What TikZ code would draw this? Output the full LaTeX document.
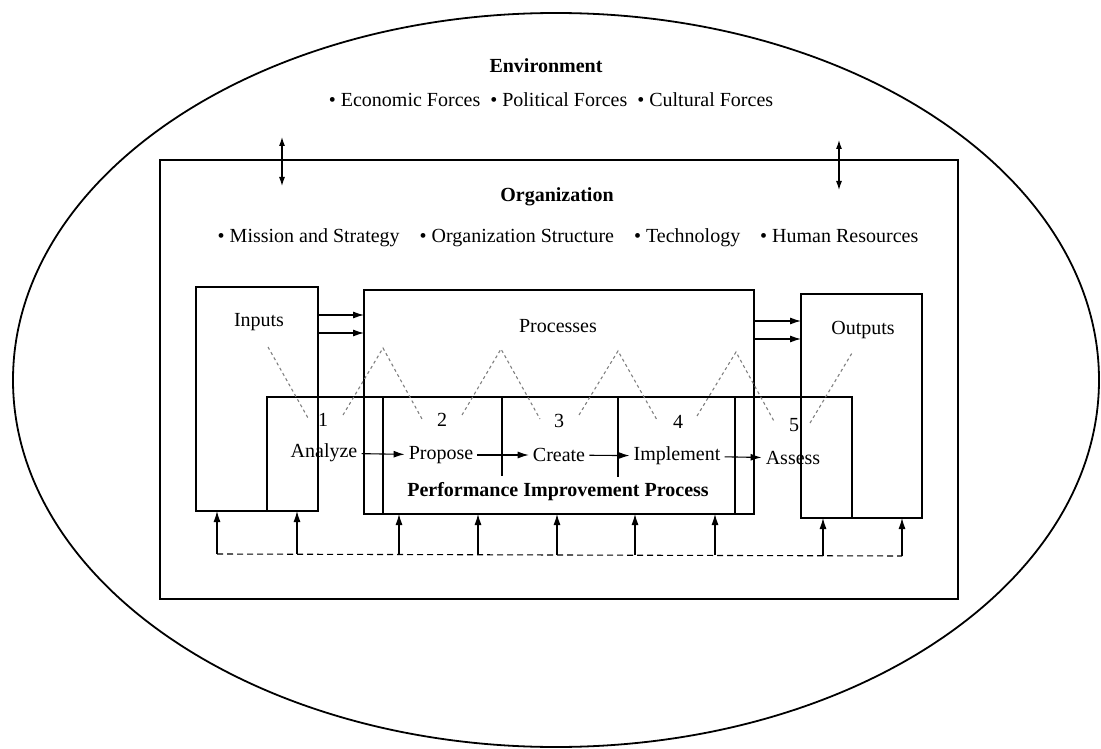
\documentclass[tikz,border=0pt]{standalone}
\usepackage{fontspec}
\setmainfont{Liberation Serif}
\usetikzlibrary{arrows.meta,calc,shapes.geometric}
\begin{document}
\begin{tikzpicture}[x=1pt,y=-1pt,
  every node/.style={font=\fontsize{20}{24}\selectfont, inner sep=2pt},
  box/.style={draw, line width=1.3pt, inner sep=0pt, outer sep=0pt, anchor=north west},
  edge/.style={line width=1.3pt},
  arr/.style={line width=1.1pt, -{Latex[length=11pt,width=7pt]}},
  dbl/.style={line width=1.1pt, {Latex[length=9pt,width=6pt]}-{Latex[length=9pt,width=6pt]}},
  zig/.style={gray, line width=1.1pt, dash pattern=on 3pt off 3pt},
  fbdash/.style={line width=1.1pt, dash pattern=on 6pt off 4pt},
  stage/.style={inner xsep=4pt, inner ysep=2pt},
  num/.style={inner sep=1pt}]
\useasboundingbox (0,0) rectangle (1101,749);

% environment and organization frames
\node[draw, ellipse, line width=1.8pt, minimum width=1086pt, minimum height=734pt, inner sep=0pt] (env) at (556,380) {};
\node[box, minimum width=798pt, minimum height=439pt] (org) at (160,160) {};

\node[font=\fontsize{20}{24}\selectfont\bfseries] (envtitle) at (546,66) {Environment};
\node (envlist) at (551,100) {\textbullet\ Economic Forces\enspace \textbullet\ Political Forces\enspace \textbullet\ Cultural Forces};
\node[font=\fontsize{20}{24}\selectfont\bfseries] (orgtitle) at (557,197) {Organization};
\node (orglist) at (568,238) {\textbullet\ Mission and Strategy\quad \textbullet\ Organization Structure\quad \textbullet\ Technology\quad \textbullet\ Human Resources};

% exchange between environment and organization
\coordinate (ea) at (282,137); \coordinate (oa) at (282,186);
\coordinate (eb) at (839,140); \coordinate (ob) at (839,190);
\draw[dbl] (ea) -- (oa);
\draw[dbl] (eb) -- (ob);

% system boxes
\node[box, minimum width=122pt, minimum height=224pt] (inputs) at (196,287) {};
\node[box, minimum width=390pt, minimum height=224pt] (processes) at (364,290) {};
\node[box, minimum width=121pt, minimum height=224pt] (outputs) at (801,294) {};
\node (inlabel) at (259,322) {Inputs};
\node (proclabel) at (558,326) {Processes};
\node (outlabel) at (863,330) {Outputs};

\foreach \y in {315,333} \draw[arr] (inputs.east |- 0,\y) -- (processes.west |- 0,\y);
\foreach \y in {321,339} \draw[arr] (processes.east |- 0,\y) -- (outputs.west |- 0,\y);

% performance improvement process band
\draw[edge] (267,511) -- (267,397) -- (852,397) -- (852,518);
\draw[edge] (383,397) -- (383,514);
\draw[edge] (735,397) -- (735,514);
\draw[edge] (502,397) -- (502,476);
\draw[edge] (618,397) -- (618,477);

\node[num] (n1) at (323,420) {1};
\node[num] (n2) at (442,420) {2};
\node[num] (n3) at (559,421) {3};
\node[num] (n4) at (678,422) {4};
\node[num] (n5) at (794,425) {5};

\node[stage] (analyze) at (324,453) {Analyze};
\node[stage] (propose) at (441,455) {Propose};
\node[stage] (create) at (559,455) {Create};
\node[stage] (implement) at (677,456) {Implement};
\node[stage] (assess) at (793,458) {Assess};
\draw[arr] (analyze) -- (propose);
\draw[arr] (propose) -- (create);
\draw[arr] (create) -- (implement);
\draw[arr] (implement) -- (assess);

\node[font=\fontsize{20}{24}\selectfont\bfseries] (piplabel) at (558,492) {Performance Improvement Process};

% zigzag linking the stages to the system
\coordinate (p0) at (268,347);
\coordinate (p1) at (383,348);
\coordinate (p2) at (501,349);
\coordinate (p3) at (618,351);
\coordinate (p4) at (736,352);
\coordinate (p5) at (852,353);
\coordinate (a1) at ($(n1)+(-15,-2)$); \coordinate (b1) at ($(n1)+(20,-5)$);
\coordinate (a2) at ($(n2)+(-20,-1)$); \coordinate (b2) at ($(n2)+(20,-5)$);
\coordinate (a3) at ($(n3)+(-19,-2)$); \coordinate (b3) at ($(n3)+(20,-6)$);
\coordinate (a4) at ($(n4)+(-21,-2)$); \coordinate (b4) at ($(n4)+(19,-6)$);
\coordinate (a5) at ($(n5)+(-19,-2)$); \coordinate (b5) at ($(n5)+(16,-2)$);
\draw[zig] (p0) -- (a1);
\draw[zig] (b1) -- (p1) -- (a2);
\draw[zig] (b2) -- (p2) -- (a3);
\draw[zig] (b3) -- (p3) -- (a4);
\draw[zig] (b4) -- (p4) -- (a5);
\draw[zig] (b5) -- (p5);

% feedback loop
\coordinate (f1) at (217,554);
\coordinate (f9) at (902,556);
\draw[fbdash] (f1) -- (f9);
\foreach \x in {217,297} \draw[arr] (\x,554) -- (\x,511);
\foreach \x in {399,478,557,635,715} \draw[arr] (\x,555) -- (\x,514);
\foreach \x in {823,902} \draw[arr] (\x,556) -- (\x,518);
\end{tikzpicture}
\end{document}
